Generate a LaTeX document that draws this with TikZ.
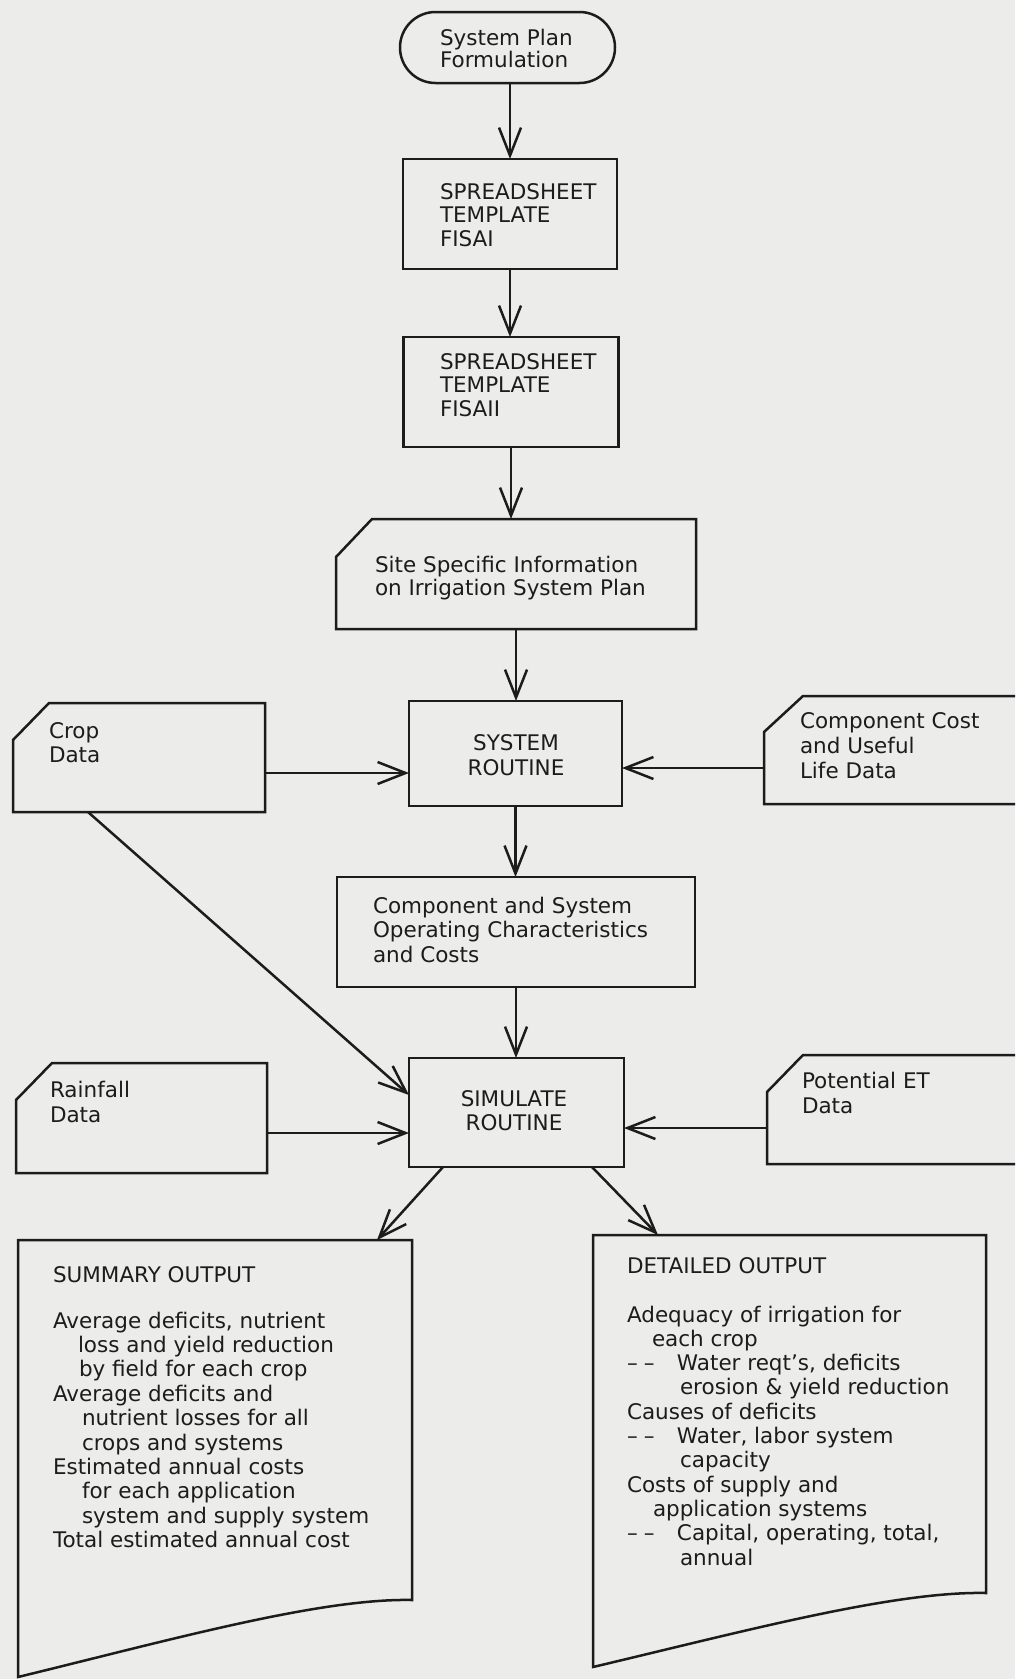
\documentclass[tikz,border=0pt]{standalone}
\usepackage{fontspec}
\setmainfont{DejaVu Sans}
\usetikzlibrary{arrows.meta}
\definecolor{bg}{RGB}{236,236,234}
\definecolor{ink}{RGB}{28,28,28}
\newcommand\Ltext[2][24.4pt]{\vtop{\baselineskip=#1\lineskiplimit=-100pt\lineskip=0pt\halign{##\hfil\cr#2\crcr}}}
\newcommand\Ctext[2][24.4pt]{\vtop{\baselineskip=#1\lineskiplimit=-100pt\lineskip=0pt\halign{\hfil##\hfil\cr#2\crcr}}}
\newcommand\cardpath[3]{\draw[lw] ([xshift=#2]#1.north west) -- (#1.north east) -- (#1.south east) -- (#1.south west) -- ([yshift=-#3]#1.north west) -- cycle;}
\newcommand\ddash{\makebox[50pt][l]{–\kern6pt–}}
\begin{document}
\begin{tikzpicture}[x=1pt,y=-1pt,
  every node/.style={inner sep=0pt, outer sep=0pt, text=ink, font=\fontsize{21.5pt}{24.4pt}\selectfont},
  lw/.style={draw=ink, line width=2.5pt, line join=miter},
  box/.style={rectangle, draw=ink, line width=2.5pt},
  holder/.style={rectangle, draw=none},
  arr/.style={lw, -{Straight Barb[length=28pt,width=22pt]}}]
\useasboundingbox (0,0) rectangle (1015,1679);
\fill[bg] (0,0) rectangle (1015,1679);
\clip (0,0) rectangle (1015,1679);

% central column
\node[box, rounded corners=35.5pt, minimum width=215pt, minimum height=71pt] (term) at (507.5,47.5) {};
\node[anchor=base west] (tterm) at (440,45) {\Ltext[22pt]{System Plan\cr Formulation}};

\node[box, minimum width=214pt, minimum height=110pt] (fa) at (510,214) {};
\node[anchor=base west] (tfa) at (440,199) {\Ltext[23.5pt]{SPREADSHEET\cr TEMPLATE\cr FISAI}};

\node[box, minimum width=215pt, minimum height=110pt] (fb) at (511,392) {};
\node[anchor=base west] (tfb) at (440,369) {\Ltext[23.5pt]{SPREADSHEET\cr TEMPLATE\cr FISAII}};

\node[holder, minimum width=360pt, minimum height=110pt] (site) at (516,574) {};
\cardpath{site}{36pt}{38pt}
\node[anchor=base west] (tsite) at (375,572) {\Ltext[23pt]{Site Specific Information\cr on Irrigation System Plan}};

\node[box, minimum width=213pt, minimum height=105pt] (sys) at (515.5,753.5) {};
\node[anchor=base] (tsys) at (516,750) {\Ctext[25pt]{SYSTEM\cr ROUTINE}};

\node[box, minimum width=358pt, minimum height=110pt] (chars) at (516,932) {};
\node[anchor=base west] (tchars) at (373,913) {\Ltext[24.5pt]{Component and System\cr Operating Characteristics\cr and Costs}};

\node[box, minimum width=215pt, minimum height=109pt] (sim) at (516.5,1112.5) {};
\node[anchor=base] (tsim) at (514,1106) {\Ctext[24.5pt]{SIMULATE\cr ROUTINE}};

% data cards
\node[holder, minimum width=252pt, minimum height=109pt] (crop) at (139,757.5) {};
\cardpath{crop}{36pt}{37pt}
\node[anchor=base west] (tcrop) at (49,738) {\Ltext[24pt]{Crop\cr Data}};

\node[holder, minimum width=296pt, minimum height=108pt] (cost) at (912,750) {};
\cardpath{cost}{39pt}{36pt}
\node[anchor=base west] (tcost) at (800,728) {\Ltext[25pt]{Component Cost\cr and Useful\cr Life Data}};

\node[holder, minimum width=251pt, minimum height=110pt] (rain) at (141.5,1118) {};
\cardpath{rain}{36pt}{37pt}
\node[anchor=base west] (train) at (50,1097) {\Ltext[25pt]{Rainfall\cr Data}};

\node[holder, minimum width=293pt, minimum height=109pt] (pet) at (913.5,1109.5) {};
\cardpath{pet}{36pt}{37pt}
\node[anchor=base west] (tpet) at (802,1088) {\Ltext[25pt]{Potential ET\cr Data}};

% output documents
\node[holder, minimum width=394pt, minimum height=437pt] (sum) at (215,1458.5) {};
\draw[lw] (sum.north west) -- (sum.north east) -- ([yshift=77pt]sum.south east)
  .. controls ([xshift=-92pt,yshift=79pt]sum.south east) and ([xshift=152pt,yshift=37pt]sum.south west) .. (sum.south west) -- cycle;
\node[anchor=base west] (tsumh) at (53,1282) {SUMMARY OUTPUT};
\node[anchor=base west] (tsum) at (53,1328) {\Ltext{Average deficits, nutrient\cr
\hspace*{25pt}loss and yield reduction\cr
\hspace*{26pt}by field for each crop\cr
Average deficits and\cr
\hspace*{29pt}nutrient losses for all\cr
\hspace*{29pt}crops and systems\cr
Estimated annual costs\cr
\hspace*{29pt}for each application\cr
\hspace*{29pt}system and supply system\cr
Total estimated annual cost}};

\node[holder, minimum width=393pt, minimum height=432pt] (det) at (789.5,1451) {};
\draw[lw] (det.north west) -- (det.north east) -- ([yshift=74pt]det.south east)
  .. controls ([xshift=-92pt,yshift=76pt]det.south east) and ([xshift=152pt,yshift=36pt]det.south west) .. (det.south west) -- cycle;
\node[anchor=base west] (tdeth) at (627,1273) {DETAILED OUTPUT};
\node[anchor=base west] (tdet) at (627,1322) {\Ltext[24.3pt]{Adequacy of irrigation for\cr
\hspace*{25pt}each crop\cr
\ddash Water reqt's, deficits\cr
\hspace*{53pt}erosion \& yield reduction\cr
Causes of deficits\cr
\ddash Water, labor system\cr
\hspace*{53pt}capacity\cr
Costs of supply and\cr
\hspace*{26pt}application systems\cr
\ddash Capital, operating, total,\cr
\hspace*{53pt}annual}};

% connectors
\draw[arr] (fa.north |- term.south) -- (fa.north);
\draw[arr] (fa.south) -- (fa.south |- fb.north);
\draw[arr] (fb.south) -- (fb.south |- site.north);
\draw[arr] (site.south) -- (site.south |- sys.north);
\draw[arr] (sys.south) -- (sys.south |- chars.north);
\draw[arr] (chars.south) -- (chars.south |- sim.north);
\coordinate (c1) at ([yshift=-15.5pt]crop.east);
\draw[arr] (c1) -- (c1 -| sys.west);
\coordinate (c2) at ([yshift=-18pt]cost.west);
\draw[arr] (c2) -- (c2 -| sys.east);
\coordinate (c3) at ([yshift=-15pt]rain.east);
\draw[arr] (c3) -- (c3 -| sim.west);
\coordinate (c4) at ([yshift=-18.5pt]pet.west);
\draw[arr] (c4) -- (c4 -| sim.east);
\draw[arr] ([xshift=75pt]crop.south west) -- ([yshift=17.5pt]sim.west);
\draw[arr] ([xshift=-73.5pt]sim.south) -- ([xshift=359pt]sum.north west);
\draw[arr] ([xshift=75.5pt]sim.south) -- ([xshift=65pt]det.north west);
\end{tikzpicture}
\end{document}
